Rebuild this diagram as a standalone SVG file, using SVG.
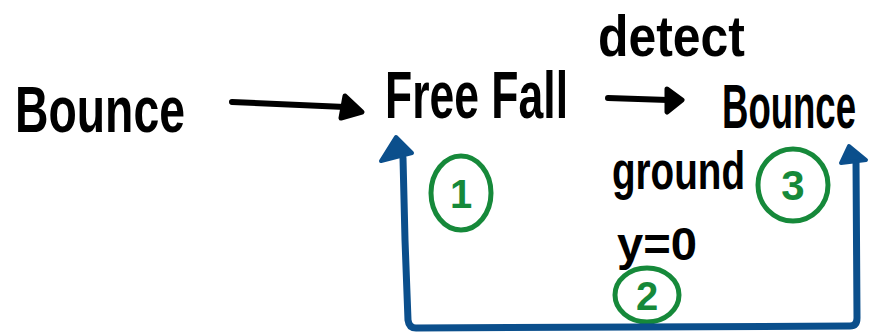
<svg xmlns="http://www.w3.org/2000/svg" width="888" height="335" viewBox="0 0 888 335">
<style>
.t{font-family:"Liberation Sans","DejaVu Sans",sans-serif;font-weight:bold;fill:#000}
.blk{stroke:#000;stroke-width:6;fill:none;stroke-linecap:round;stroke-linejoin:round}
.blue{stroke:#0b4f8c;stroke-width:7;fill:none;stroke-linecap:round;stroke-linejoin:round}
.bluehead{fill:#0b4f8c;stroke:#0b4f8c;stroke-width:4;stroke-linejoin:round}
.grn{stroke:#16893a;stroke-width:5;fill:none;stroke-linecap:round}
.num{font-family:"Liberation Sans","DejaVu Sans",sans-serif;font-weight:bold;fill:#16893a;text-anchor:middle}
</style>
<rect width="888" height="335" fill="#fff"/>
<g id="bounce-start"><text class="t" transform="translate(15 132) scale(1 1.36)" font-size="47" textLength="170" lengthAdjust="spacingAndGlyphs">Bounce</text></g>
<g id="free-fall"><text class="t" transform="translate(385 118) scale(1 1.48)" font-size="44.5" textLength="183" lengthAdjust="spacingAndGlyphs">Free Fall</text></g>
<g id="bounce-end"><text class="t" transform="translate(722 128) scale(1 1.68)" font-size="37" textLength="134" lengthAdjust="spacingAndGlyphs">Bounce</text></g>
<g id="labels">
<text class="t" transform="translate(598 56) scale(1 1.16)" font-size="50" textLength="147" lengthAdjust="spacingAndGlyphs">detect</text>
<text class="t" transform="translate(612 189) scale(1 1.4)" font-size="38.6" textLength="133" lengthAdjust="spacingAndGlyphs">ground</text>
<text class="t" transform="translate(617 260)" font-size="46" textLength="80" lengthAdjust="spacingAndGlyphs">y=0</text>
</g>
<g id="step-1"><ellipse class="grn" cx="461" cy="193" rx="30" ry="37"/><text class="num" x="461" y="208" font-size="40">1</text></g>
<g id="step-2"><ellipse class="grn" cx="647" cy="295" rx="32" ry="27"/><text class="num" x="647" y="310" font-size="40">2</text></g>
<g id="step-3"><ellipse class="grn" cx="793" cy="185" rx="35" ry="36"/><text class="num" x="793" y="200" font-size="42">3</text></g>
<g id="connectors">
<path class="blk" d="M232 102 L345 107"/>
<path d="M345 96 L362 112 L341 118 Z" fill="#000" stroke="#000" stroke-width="5" stroke-linejoin="round"/>
<path class="blk" d="M608 98 L668 100"/>
<path d="M667 89 L682 100 L667 112 Z" fill="#000" stroke="#000" stroke-width="5" stroke-linejoin="round"/>
<path class="blue" d="M403 158 L405 240 L408 320 Q409 328 416 328 L850 326 Q857 326 857 318 L856 160"/>
<path class="bluehead" d="M396 137 L412 153 L381 161 Z"/>
<path class="bluehead" d="M849 146 L866 160 L841 163 Z"/>
</g>
</svg>
